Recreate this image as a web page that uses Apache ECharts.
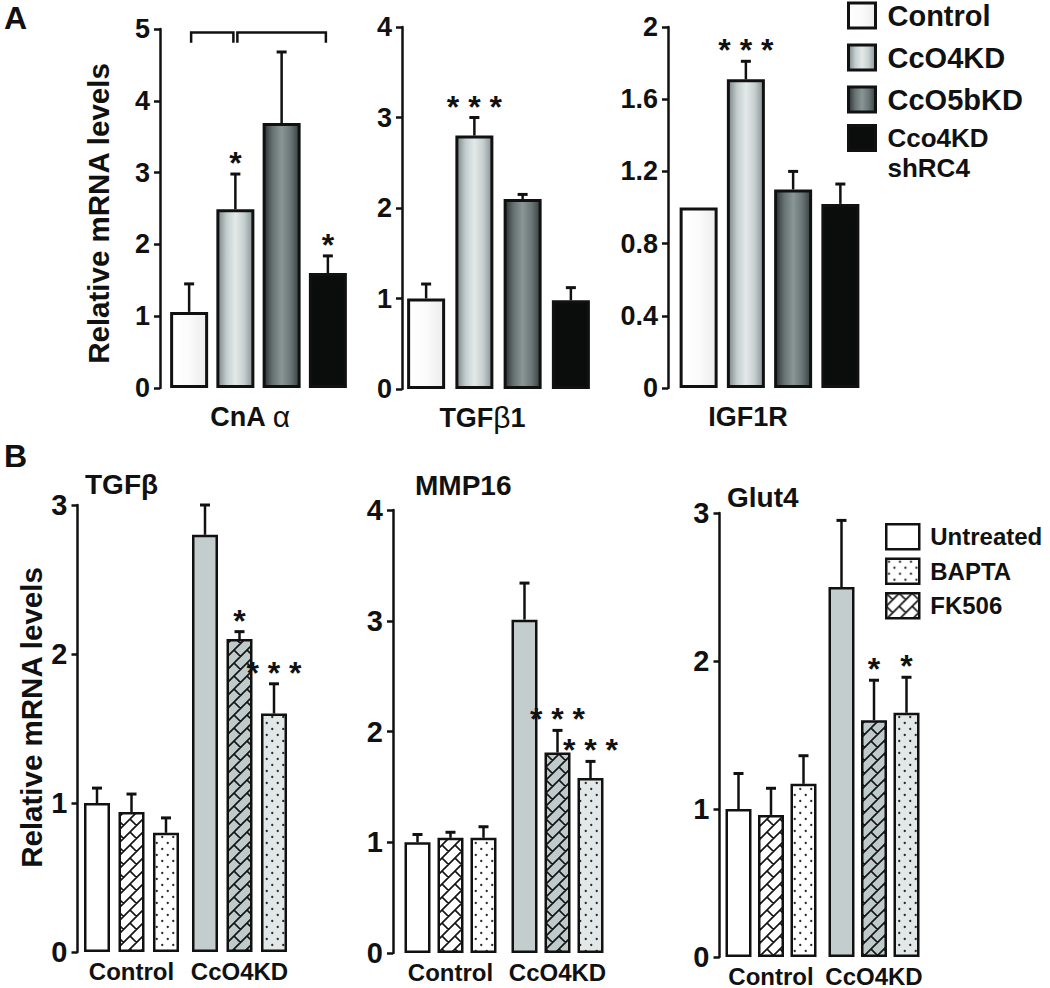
<!DOCTYPE html>
<html><head><meta charset="utf-8">
<script src="https://cdn.jsdelivr.net/npm/echarts@6/dist/echarts.min.js"></script>
<style>html,body{margin:0;padding:0;background:#fff}#c{width:1050px;height:988px}</style>
</head><body><div id="c"></div>
<script>
const FONT = '"Liberation Sans", Arial, Helvetica, sans-serif';

// ---------- Panel A data ----------
const genesA = ['CnA α', 'TGFβ1', 'IGF1R'];
const groupsA = ['Control', 'CcO4KD', 'CcO5bKD', 'Cco4KD shRC4'];
const cnaMean = [1.06, 2.49, 3.69, 1.60];
const cnaErr = [0.39, 0.49, 0.99, 0.24];
const cnaSig = ['', '*', '', '*'];
const tgfb1Mean = [1.00, 2.80, 2.10, 0.98];
const tgfb1Err = [0.16, 0.20, 0.05, 0.14];
const tgfb1Sig = ['', '* * *', '', ''];
const igf1rMean = [1.00, 1.71, 1.10, 1.02];
const igf1rErr = [0, 0.10, 0.10, 0.11];
const igf1rSig = ['', '* * *', '', ''];
const yMaxA = [5, 4, 2];
const yStepA = [1, 1, 0.4];
const cnaBrackets = [[0, 1], [1, 3]];
const bracketLevel = [4.95, 4.81];

// ---------- Panel B data ----------
const genesB = ['TGFβ', 'MMP16', 'Glut4'];
const cellsB = ['Control', 'CcO4KD'];
const treatB = ['Untreated', 'FK506', 'BAPTA'];
const legendBOrder = ['Untreated', 'BAPTA', 'FK506'];
// rows follow treatB, columns follow cellsB
const tgfbMean = [[1.00, 2.80], [0.94, 2.10], [0.80, 1.60]];
const tgfbErr  = [[0.10, 0.20], [0.12, 0.05], [0.10, 0.20]];
const tgfbSig  = [['', ''], ['', '*'], ['', '* * *']];
const mmpMean  = [[1.00, 3.01], [1.04, 1.81], [1.04, 1.58]];
const mmpErr   = [[0.07, 0.33], [0.05, 0.20], [0.10, 0.15]];
const mmpSig   = [['', ''], ['', '* * *'], ['', '* * *']];
const glutMean = [[1.00, 2.50], [0.96, 1.60], [1.17, 1.65]];
const glutErr  = [[0.24, 0.45], [0.18, 0.27], [0.19, 0.24]];
const glutSig  = [['', ''], ['', '*'], ['', '*']];
const yMaxB = [3, 4, 3];

const meansA = [cnaMean, tgfb1Mean, igf1rMean];
const errsA = [cnaErr, tgfb1Err, igf1rErr];
const sigsA = [cnaSig, tgfb1Sig, igf1rSig];
const meansB = [tgfbMean, mmpMean, glutMean];
const errsB = [tgfbErr, mmpErr, glutErr];
const sigsB = [tgfbSig, mmpSig, glutSig];

// ---------- styles / layout ----------
const INK = '#111';
const grad = (cols) => ({ type: 'linear', x: 0, y: 0, x2: 1, y2: 0,
  colorStops: cols.map((c, i) => ({ offset: i / (cols.length - 1), color: c })) });
const fillA = [
  grad(['#ffffff', '#fbfbfb', '#ececec']),
  grad(['#7b8686', '#c3cdcd', '#e3e9e9', '#c6cfcf', '#889393']),
  grad(['#2c3434', '#677373', '#8a9696', '#6b7777', '#384141']),
  '#0b0d0d'
];

function hatchTile(bg) {
  const s = 13, c = document.createElement('canvas');
  c.width = s; c.height = s;
  const g = c.getContext('2d');
  g.fillStyle = bg; g.fillRect(0, 0, s, s);
  g.strokeStyle = '#151515'; g.lineWidth = 1.7;
  const H = s / Math.SQRT2, L = 2 * H;
  g.save(); g.rotate(-Math.PI / 4);
  g.beginPath();
  for (let k = -5; k <= 5; k++) {
    g.moveTo(-6 * L, k * H); g.lineTo(6 * L, k * H);
    const sh = (((k % 2) + 2) % 2) ? L / 2 : 0;
    for (let m = -5; m <= 5; m++) {
      const x = m * L + sh;
      g.moveTo(x, k * H); g.lineTo(x, (k + 1) * H);
    }
  }
  g.stroke(); g.restore();
  return { image: c, repeat: 'repeat', imageWidth: s, imageHeight: s };
}
function dotTile(bg) {
  const w = 11, h = 12, c = document.createElement('canvas');
  c.width = w; c.height = h;
  const g = c.getContext('2d');
  g.fillStyle = bg; g.fillRect(0, 0, w, h);
  g.fillStyle = '#2a2a2a';
  [[2.75, 3], [8.25, 9]].forEach(p => { g.beginPath(); g.arc(p[0], p[1], 1.15, 0, Math.PI * 2); g.fill(); });
  return { image: c, repeat: 'repeat', imageWidth: w, imageHeight: h };
}
// per treatment: [control fill, CcO4KD fill]
const fillB = [
  ['#ffffff', '#c3cdcd'],
  [hatchTile('#ffffff'), hatchTile('#bfcaca')],
  [dotTile('#ffffff'), dotTile('#e2e8e8')]
];

const gridsA = [
  { left: 166, top: 29, width: 185, height: 359, off: 6, shift: 17 },
  { left: 402, top: 27, width: 193, height: 362, off: 0, shift: 32 },
  { left: 675, top: 27, width: 189, height: 361, off: 7, shift: 43 }
];
const gridsB = [
  { left: 77.5, top: 505, width: 216, height: 447, off: 0, step: 34.5 },
  { left: 397, top: 510, width: 214, height: 443, off: 4, step: 33 },
  { left: 719.5, top: 513, width: 206, height: 444, off: 0, step: 32.5 }
];
const BW_A = 38, BW_B = 26;

function errRender(step, sigs, fs) {
  return function (params, api) {
    const cat = api.value(0), k = api.value(1), v = api.value(2), e = api.value(3);
    const b = api.coord([cat, v]), t = api.coord([cat, v + e]);
    const x = b[0] + (k - 1) * step;
    const kids = [];
    if (e > 0) {
      kids.push({ type: 'line', shape: { x1: x, y1: b[1], x2: x, y2: t[1] }, style: { stroke: INK, lineWidth: 2.5 } });
      kids.push({ type: 'line', shape: { x1: x - 5, y1: t[1], x2: x + 5, y2: t[1] }, style: { stroke: INK, lineWidth: 3 } });
    }
    const s = sigs[params.dataIndex];
    if (s) kids.push({ type: 'text', style: { text: s, x: x, y: t[1] - 11, align: 'center', verticalAlign: 'middle',
      font: 'bold ' + fs + 'px ' + FONT, fill: INK } });
    return { type: 'group', children: kids };
  };
}

const grid = [], xAxis = [], yAxis = [], series = [];
const axisBase = (max, step, off, fs) => ({
  type: 'value', min: 0, max: max, interval: step, offset: off,
  axisLine: { show: true, lineStyle: { color: INK, width: 2.5 } },
  axisTick: { show: true, length: 6, lineStyle: { color: INK, width: 2.5 } },
  splitLine: { show: false },
  axisLabel: { color: INK, fontSize: fs, fontWeight: 'bold', fontFamily: FONT, margin: 10 }
});

gridsA.forEach((gd, p) => {
  grid.push({ left: gd.left, top: gd.top, width: gd.width, height: gd.height });
  xAxis.push({ type: 'category', gridIndex: p, data: groupsA,
    axisLine: { show: false }, axisTick: { show: false }, axisLabel: { show: false },
    name: genesA[p].replace(/([αβ])/g, '{g|$1}'), nameLocation: 'middle', nameGap: 15,
    nameTextStyle: { color: INK, fontSize: 27, fontWeight: 'bold', fontFamily: FONT, lineHeight: 27,
      padding: [0, gd.shift, 0, 0],
      rich: { g: { fontSize: 30, fontWeight: 'normal', fontFamily: FONT, color: INK } } } });
  const ya = axisBase(yMaxA[p], yStepA[p], gd.off, 27);
  ya.gridIndex = p;
  if (p === 0) {
    Object.assign(ya, { name: 'Relative mRNA levels', nameLocation: 'middle', nameRotate: 90, nameGap: 47,
      nameTextStyle: { color: INK, fontSize: 29.5, fontWeight: 'bold', fontFamily: FONT, lineHeight: 29, padding: [0, 10, 0, 0] } });
  }
  yAxis.push(ya);
  groupsA.forEach((gname, g) => {
    series.push({ type: 'bar', name: gname, xAxisIndex: p, yAxisIndex: p, barWidth: BW_A, barGap: '-100%',
      data: groupsA.map((_, j) => j === g ? meansA[p][g] : '-'),
      itemStyle: { color: fillA[g], borderColor: INK, borderWidth: 3 }, emphasis: { disabled: true } });
  });
  series.push({ type: 'custom', xAxisIndex: p, yAxisIndex: p, z: 5, clip: false, silent: true,
    encode: { x: 0, y: 2 },
    data: groupsA.map((_, j) => [j, 1, meansA[p][j], errsA[p][j]]),
    renderItem: errRender(0, sigsA[p], 32) });
});
// significance brackets (CnA α)
series.push({ type: 'custom', xAxisIndex: 0, yAxisIndex: 0, z: 5, clip: false, silent: true,
  encode: { x: 0, y: 1 },
  data: cnaBrackets.map(b => [b[0], b[1]]),
  renderItem: function (params, api) {
    const a = api.coord([api.value(0), bracketLevel[0]]), b = api.coord([api.value(1), bracketLevel[1]]);
    const x1 = a[0] + 2, x2 = b[0] - 2;
    return { type: 'polyline', shape: { points: [[x1, b[1]], [x1, a[1]], [x2, a[1]], [x2, b[1]]] },
      style: { stroke: INK, lineWidth: 2.5, fill: null } };
  } });

gridsB.forEach((gd, q) => {
  const p = q + 3;
  grid.push({ left: gd.left, top: gd.top, width: gd.width, height: gd.height });
  xAxis.push({ type: 'category', gridIndex: p, data: cellsB,
    axisLine: { show: false }, axisTick: { show: false },
    axisLabel: { interval: 0, hideOverlap: false, color: INK, fontSize: 24, fontWeight: 'bold', fontFamily: FONT, margin: 7 } });
  const ya = axisBase(yMaxB[q], 1, gd.off, 29);
  ya.gridIndex = p;
  if (q === 0) {
    Object.assign(ya, { name: 'Relative mRNA levels', nameLocation: 'middle', nameRotate: 90, nameGap: 32,
      nameTextStyle: { color: INK, fontSize: 29.5, fontWeight: 'bold', fontFamily: FONT, lineHeight: 29, padding: [0, 0, 0, 22] } });
  }
  yAxis.push(ya);
  const gapPct = ((gd.step - BW_B) / BW_B * 100).toFixed(1) + '%';
  treatB.forEach((tname, t) => {
    series.push({ type: 'bar', name: tname, xAxisIndex: p, yAxisIndex: p, barWidth: BW_B, barGap: gapPct,
      itemStyle: { color: fillB[t][0], borderColor: INK, borderWidth: 2.5 }, emphasis: { disabled: true },
      data: cellsB.map((_, c) => ({ value: meansB[q][t][c], itemStyle: { color: fillB[t][c] } })) });
  });
  const ed = [], sg = [];
  treatB.forEach((_, t) => cellsB.forEach((_, c) => { ed.push([c, t, meansB[q][t][c], errsB[q][t][c]]); sg.push(sigsB[q][t][c]); }));
  series.push({ type: 'custom', xAxisIndex: p, yAxisIndex: p, z: 5, clip: false, silent: true,
    encode: { x: 0, y: 2 }, data: ed, renderItem: errRender(gd.step, sg, 32) });
});

const titleTexts = [
  { text: 'A', x: 4, y: 18, size: 32 },
  { text: 'B', x: 4, y: 456, size: 32 },
  { text: genesB[0], x: 85, y: 484, size: 28 },
  { text: genesB[1], x: 415, y: 485, size: 28 },
  { text: genesB[2], x: 727, y: 497, size: 28 }
];

const chart = echarts.init(document.getElementById('c'), null, { renderer: 'svg' });
chart.setOption({
  animation: false,
  backgroundColor: '#ffffff',
  grid, xAxis, yAxis, series,
  legend: [
    { data: groupsA.slice(0, 3), orient: 'vertical', left: 847, top: 1, padding: 0, itemGap: 13,
      itemWidth: 27, itemHeight: 25, icon: 'rect', selectedMode: false,
      itemStyle: { borderColor: INK, borderWidth: 3 },
      textStyle: { color: INK, fontSize: 29, fontWeight: 'bold', fontFamily: FONT, lineHeight: 28, padding: [0, 0, 0, 7] } },
    { data: groupsA.slice(3), orient: 'vertical', left: 847, top: 93, padding: 0,
      itemWidth: 27, itemHeight: 25, icon: 'rect', selectedMode: false,
      formatter: (n) => '\n' + n.replace(' ', '\n'),
      itemStyle: { borderColor: INK, borderWidth: 3 },
      textStyle: { color: INK, fontSize: 26, fontWeight: 'bold', fontFamily: FONT, lineHeight: 30, padding: [0, 0, 0, 7] } },
    { data: legendBOrder, orient: 'vertical', left: 885, top: 523, padding: 0, itemGap: 7,
      itemWidth: 33, itemHeight: 25, icon: 'rect', selectedMode: false,
      itemStyle: { borderColor: INK, borderWidth: 2.5 },
      textStyle: { color: INK, fontSize: 24, fontWeight: 'bold', fontFamily: FONT, lineHeight: 26, padding: [0, 0, 0, 6] } }
  ],
  graphic: titleTexts.map(t => ({ type: 'text', x: t.x, y: t.y, silent: true,
    style: { text: t.text, fill: INK, font: 'bold ' + t.size + 'px ' + FONT, verticalAlign: 'middle', align: 'left' } }))
});
</script></body></html>
